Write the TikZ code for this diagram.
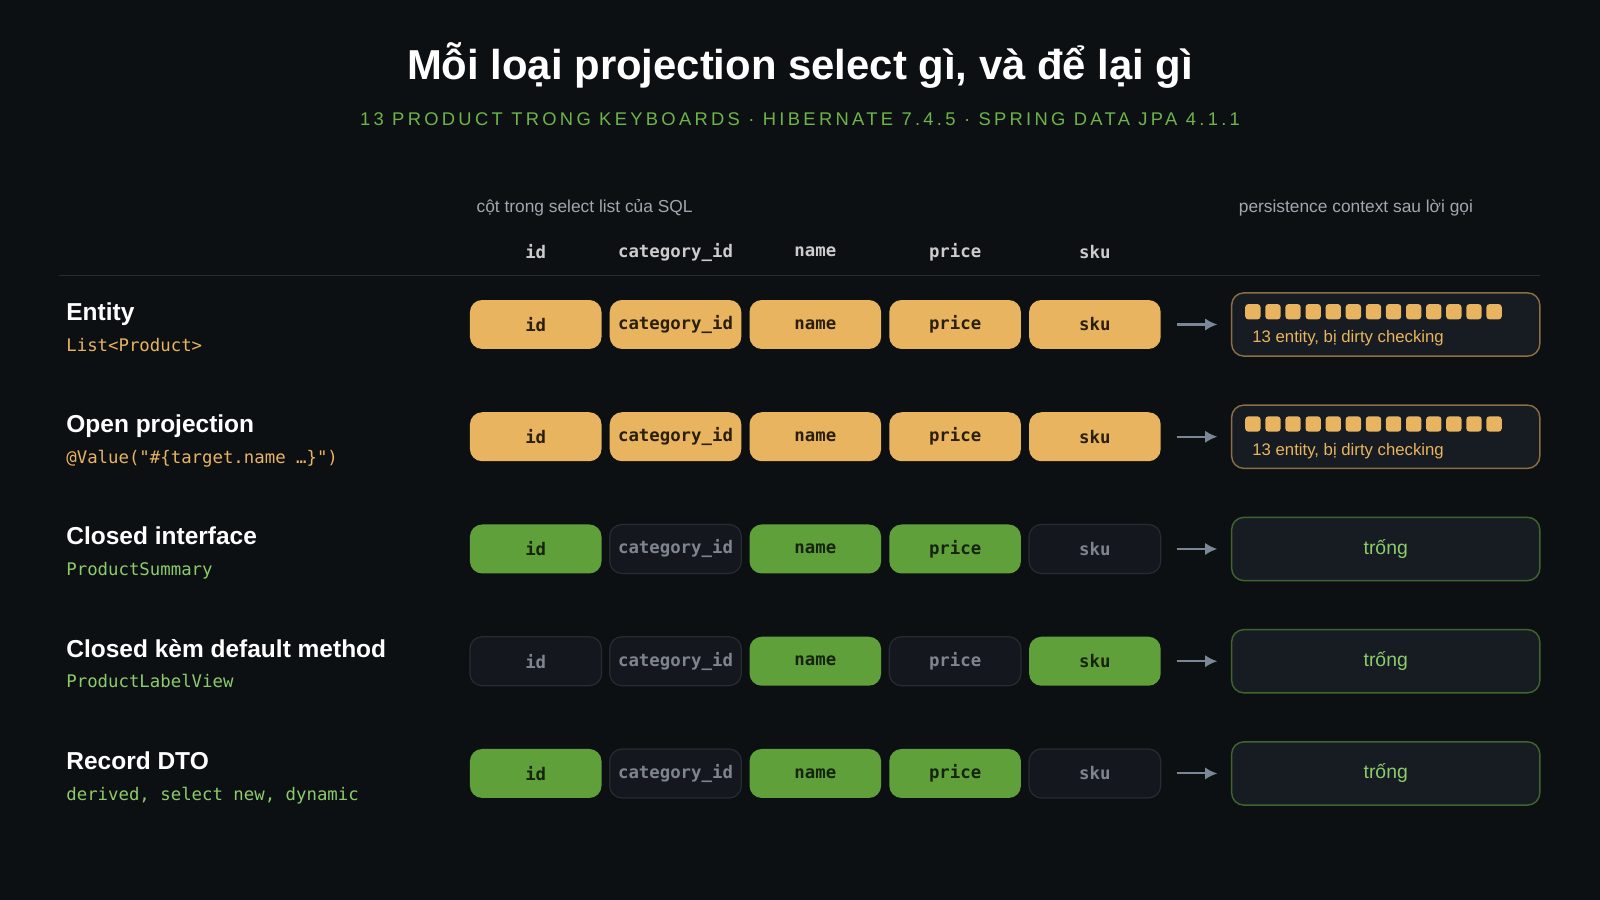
\documentclass[tikz,border=0pt]{standalone}
\usepackage{fontspec}
\setmainfont{Liberation Sans}
\setmonofont{DejaVu Sans Mono}
\usetikzlibrary{positioning, calc, arrows.meta}
\definecolor{bg}{HTML}{0D1013}
\definecolor{ora}{HTML}{E8B45F}
\definecolor{oratext}{HTML}{2B1F0C}
\definecolor{grn}{HTML}{5FA03B}
\definecolor{grntext}{HTML}{16240E}
\definecolor{emp}{HTML}{14171D}
\definecolor{empline}{HTML}{272B33}
\definecolor{emptext}{HTML}{7F858E}
\definecolor{subgrn}{HTML}{6DB548}
\definecolor{lightgrn}{HTML}{8CCB6A}
\definecolor{gry}{HTML}{A2A7AF}
\definecolor{boxbg}{HTML}{171B22}
\definecolor{arr}{HTML}{7C8796}
\tikzset{
  cell/.style={rounded corners=6pt, minimum width=64.5pt, minimum height=24pt, inner sep=0pt, font=\ttfamily\bfseries\fontsize{8.5}{10}\selectfont},
  cell o/.style={cell, fill=ora, text=oratext},
  cell g/.style={cell, fill=grn, text=grntext},
  cell e/.style={cell, fill=emp, draw=empline, line width=0.6pt, text=emptext},
  pcbox/.style={rounded corners=6pt, minimum width=151pt, minimum height=31pt, inner sep=0pt, fill=boxbg, line width=0.7pt},
  rowtitle/.style={anchor=base west, text=white, font=\bfseries\fontsize{12}{14}\selectfont},
  rowsub/.style={anchor=base west, font=\ttfamily\fontsize{8.5}{10}\selectfont},
  colhead/.style={text=gray!40, font=\ttfamily\bfseries\fontsize{8.5}{10}\selectfont},
}
\begin{document}
\begin{tikzpicture}[x=0.5pt, y=-0.5pt]
\fill[bg] (0,0) rectangle (1568,882);
\useasboundingbox (0,0) rectangle (1568,882);
% title
\node[text=white, font=\bfseries\fontsize{20.5}{24}\selectfont] (title) at (784,64) {Mỗi loại projection select gì, và để lại gì};
\node[text=subgrn, font=\fontsize{9}{11}\selectfont\addfontfeature{LetterSpace=18}] (subtitle) at (784,117) {13 PRODUCT TRONG KEYBOARDS · HIBERNATE 7.4.5 · SPRING DATA JPA 4.1.1};
% headers
\node[anchor=west, text=gry, font=\fontsize{8.5}{10}\selectfont] (sqlhead) at (460,204) {cột trong select list của SQL};
\node[anchor=west, text=gry, font=\fontsize{8.5}{10}\selectfont] (pchead) at (1207,204) {persistence context sau lời gọi};
\foreach \x/\c [count=\i] in {525/id,662/category\_id,799/name,936/price,1073/sku}
  \node[colhead] (h\i) at (\x,247) {\c};
\draw[empline, line width=0.8pt] (58,270) -- (1509,270);
% rows
\foreach \y/\t/\s/\sc/\states/\pc [count=\r] in {
  318/Entity/{List<Product>}/ora/{o,o,o,o,o}/ora,
  428/Open projection/{@Value("\#\{target.name …\}")}/ora/{o,o,o,o,o}/ora,
  538/Closed interface/ProductSummary/lightgrn/{g,e,g,g,e}/grn,
  648/Closed kèm default method/ProductLabelView/lightgrn/{e,e,g,e,g}/grn,
  758/Record DTO/{derived, select new, dynamic}/lightgrn/{g,e,g,g,e}/grn}{
  \node[rowtitle] (t\r) at (58,\y-4) {\t};
  \node[rowsub, text=\sc] (s\r) at (58,\y+26) {\s};
  \foreach \x/\c [count=\i] in {525/id,662/category\_id,799/name,936/price,1073/sku}{
    \foreach \st [count=\k] in \states {
      \ifnum\k=\i \node[cell \st] (c\r\i) at (\x,\y) {\c}; \fi
    }
  }
  \coordinate (a\r) at (1153,\y);
  \node[pcbox, draw=\pc!55!boxbg] (p\r) at (1358,\y) {};
  \draw[arr, line width=1pt, -{Latex[length=6pt,width=6pt]}] (a\r) -- ++(40,0);
}
% persistence context contents
\foreach \r in {1,2}{
  \foreach \k in {0,...,12}
    \fill[ora, rounded corners=1.5pt] ($(p\r.west)+(14+\k*19.7,-20)$) rectangle ++(15,15);
  \node[anchor=base west, text=ora, font=\fontsize{8.2}{10}\selectfont] (n\r) at ($(p\r.west)+(14,18)$) {13 entity, bị dirty checking};
}
\foreach \r in {3,4,5}
  \node[text=lightgrn, font=\fontsize{9.5}{11}\selectfont] (e\r) at (p\r) {trống};
\end{tikzpicture}
\end{document}
